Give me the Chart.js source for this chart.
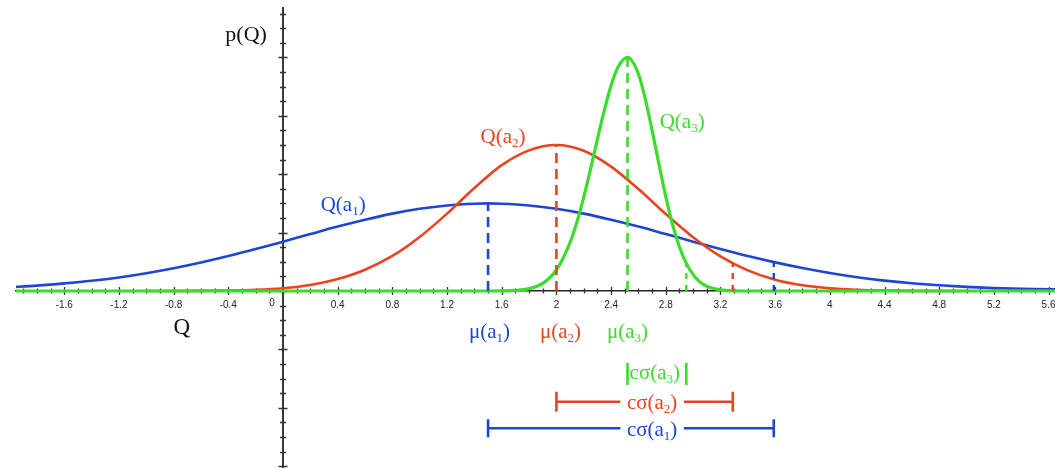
<!DOCTYPE html>
<html>
<head>
<meta charset="utf-8">
<script src="https://cdn.jsdelivr.net/npm/chart.js@4.4.0/dist/chart.umd.min.js"></script>
<style>
html,body{margin:0;padding:0;background:#ffffff;}
#wrap{width:1055px;height:468px;}
</style>
</head>
<body>
<div id="wrap"><canvas id="c" width="1055" height="468"></canvas></div>
<script>
// ---- data ----
const xTickLabels = ['-1.6','-1.2','-0.8','-0.4','0','0.4','0.8','1.2','1.6','2','2.4','2.8','3.2','3.6','4','4.4','4.8','5.2','5.6'];

const blueQ = [-2.0,-1.8,-1.6,-1.4,-1.2,-1.0,-0.8,-0.6,-0.4,-0.2,0,0.2,0.4,0.6,0.8,1.0,1.2,1.4,1.5,1.6,1.8,2.0,2.2,2.4,2.6,2.8,3.0,3.2,3.4,3.6,3.8,4.0,4.2,4.4,4.6,4.8,5.0,5.2,5.4,5.6,5.8];
const blueP = [0.026,0.037,0.052,0.070,0.093,0.122,0.156,0.195,0.239,0.287,0.338,0.390,0.441,0.488,0.530,0.563,0.586,0.598,0.600,0.598,0.586,0.563,0.530,0.488,0.441,0.390,0.338,0.287,0.239,0.196,0.157,0.123,0.094,0.071,0.053,0.039,0.028,0.020,0.015,0.012,0.010];

const redQ = [-1.0,-0.6,-0.4,-0.2,0,0.2,0.4,0.6,0.8,1.0,1.2,1.4,1.6,1.8,2.0,2.2,2.4,2.6,2.8,3.0,3.2,3.4,3.6,3.8,4.0,4.2,4.4,4.6,5.0];
const redP = [0.000,0.001,0.003,0.008,0.019,0.041,0.082,0.146,0.240,0.370,0.530,0.705,0.862,0.963,1.000,0.961,0.852,0.698,0.527,0.368,0.237,0.141,0.077,0.039,0.018,0.008,0.003,0.001,0.000];

const greenQ = [-2.0,1.5,1.6,1.7,1.8,1.9,2.0,2.1,2.15,2.2,2.25,2.3,2.35,2.4,2.45,2.52,2.6,2.65,2.7,2.75,2.8,2.85,2.9,2.95,3.0,3.05,3.1,3.2,3.3,3.4,5.8];
const greenP = [0,0,0.001,0.004,0.016,0.052,0.144,0.333,0.473,0.643,0.836,1.040,1.237,1.407,1.532,1.600,1.486,1.316,1.100,0.868,0.646,0.454,0.301,0.189,0.112,0.062,0.033,0.008,0.001,0,0];

const means   = [1.50, 2.00, 2.52];   // mu(a1), mu(a2), mu(a3)
const peaks   = [0.600, 1.000, 1.600];
const cSigma  = [2.09, 1.29, 0.43];   // c*sigma(a1..a3)
const tailP   = [0.196, 0.19, 0.18];  // curve height at mu + c*sigma

// ---- styles / positions ----
const BLUE = '#1e46d2', RED = '#e8441f', GREEN = '#3cdc2c';
const COLORS = [BLUE, RED, GREEN];
const bracketLevels = [-0.94, -0.758, -0.568];
const capRadius = [9, 10, 11];

const labels = [
  {s:'p(Q)',   q:-0.27, v:1.712,  color:'#111', size:22},
  {s:'Q',      q:-0.74, v:-0.295, color:'#111', size:23},
  {s:'Q(a_1)', q:0.44,  v:0.548,  color:BLUE,  size:21},
  {s:'Q(a_2)', q:1.61,  v:1.014,  color:RED,   size:21},
  {s:'Q(a_3)', q:2.92,  v:1.116,  color:GREEN, size:21},
  {s:'μ(a_1)', q:1.51,  v:-0.322, color:BLUE,  size:21},
  {s:'μ(a_2)', q:2.03,  v:-0.322, color:RED,   size:21},
  {s:'μ(a_3)', q:2.52,  v:-0.322, color:GREEN, size:21},
  {s:'cσ(a_3)', q:2.72, v:-0.603, color:GREEN, size:21, bg:false},
  {s:'cσ(a_2)', q:2.70, v:-0.808, color:RED,   size:21, bg:true},
  {s:'cσ(a_1)', q:2.70, v:-0.993, color:BLUE,  size:21, bg:true}
];

const pts = (qs, ps) => qs.map((q, i) => ({x:q, y:ps[i]}));

const datasets = [];
// curves
[[blueQ, blueP, 3, 2.6], [redQ, redP, 2, 2.6], [greenQ, greenP, 1, 3.2]].forEach((c, i) => {
  datasets.push({data: pts(c[0], c[1]), borderColor: COLORS[i], borderWidth: c[3], pointRadius: 0,
    cubicInterpolationMode: 'monotone', fill: false, order: c[2]});
});
// mean dashed lines, mu + c sigma marks, brackets
means.forEach((m, i) => {
  datasets.push({data: [{x:m, y:0}, {x:m, y:peaks[i]}], borderColor: COLORS[i], borderWidth: 2.6,
    borderDash: [10, 6], pointRadius: 0, order: 0});
  datasets.push({data: [{x:m + cSigma[i], y:0}, {x:m + cSigma[i], y:tailP[i]}], borderColor: COLORS[i], borderWidth: 2.4,
    borderDash: [6, 6], pointRadius: 0, order: 0});
  datasets.push({data: [{x:m, y:bracketLevels[i]}, {x:m + cSigma[i], y:bracketLevels[i]}],
    borderColor: COLORS[i], borderWidth: 2.4, showLine: i !== 2,
    pointStyle: 'line', rotation: 90, pointRadius: capRadius[i], pointHoverRadius: capRadius[i],
    pointBorderColor: COLORS[i], pointBorderWidth: 2.6, order: 0});
});

function richParts(s) {
  const m = s.match(/^(.*)_(\d)(.*)$/);
  if (!m) return [{t:s, sub:false}];
  return [{t:m[1], sub:false}, {t:m[2], sub:true}, {t:m[3], sub:false}];
}

function drawRich(ctx, s, cx, by, size, color, bg) {
  const parts = richParts(s);
  const fontOf = p => (p.sub ? size * 0.62 : size) + 'px "Liberation Serif"';
  let w = 0;
  parts.forEach(p => { ctx.font = fontOf(p); p.w = ctx.measureText(p.t).width; w += p.w; });
  let x = cx - w / 2;
  if (bg) {
    ctx.fillStyle = '#ffffff';
    ctx.fillRect(x - 6.5, by - size * 0.8, w + 13, size * 1.1);
  }
  ctx.fillStyle = color;
  ctx.textAlign = 'left';
  ctx.textBaseline = 'alphabetic';
  parts.forEach(p => {
    ctx.font = fontOf(p);
    ctx.fillText(p.t, x, by + (p.sub ? size * 0.2 : 0));
    x += p.w;
  });
}

const axisTicks = {
  id: 'axisTicks',
  beforeDatasetsDraw(chart) {
    const ctx = chart.ctx, xs = chart.scales.x, ys = chart.scales.y;
    const x0 = xs.getPixelForValue(0), y0 = ys.getPixelForValue(0);
    ctx.save();
    ctx.strokeStyle = '#333';
    ctx.lineWidth = 1.3;
    ctx.beginPath();
    for (let k = Math.ceil(xs.min * 10); k <= Math.floor(xs.max * 10); k++) {
      const px = Math.round(xs.getPixelForValue(k / 10)) + 0.5;
      const h = (k % 4 === 0) ? 4 : 2.5;
      ctx.moveTo(px, y0 - h); ctx.lineTo(px, y0 + h);
    }
    for (let k = Math.ceil(ys.min * 10); k <= Math.floor(ys.max * 10); k++) {
      const py = Math.round(ys.getPixelForValue(k / 10)) + 0.5;
      const h = (k % 4 === 0) ? 4.5 : 3;
      ctx.moveTo(x0 - h, py); ctx.lineTo(x0 + h, py);
    }
    ctx.stroke();
    ctx.fillStyle = '#222';
    ctx.font = '10px "Liberation Sans"';
    ctx.textAlign = 'center';
    ctx.textBaseline = 'middle';
    ctx.fillText('0', x0 - 11, y0 + 12);
    ctx.restore();
  },
  afterDatasetsDraw(chart) {
    const ctx = chart.ctx, xs = chart.scales.x, ys = chart.scales.y;
    ctx.save();
    labels.forEach(l => drawRich(ctx, l.s, xs.getPixelForValue(l.q), ys.getPixelForValue(l.v), l.size, l.color, l.bg));
    ctx.restore();
  }
};

const zeroFit = s => {
  if (s.isHorizontal()) { s.height = 0; } else { s.width = 0; }
  s.paddingLeft = 0; s.paddingRight = 0; s.paddingTop = 0; s.paddingBottom = 0;
};

new Chart(document.getElementById('c'), {
  type: 'line',
  data: {datasets},
  options: {
    responsive: false,
    devicePixelRatio: 1,
    animation: false,
    layout: {autoPadding: false, padding: {left: 16, top: 8, right: 0, bottom: 0}},
    plugins: {legend: {display: false}, tooltip: {enabled: false}},
    events: [],
    scales: {
      x: {
        type: 'linear', position: {y: 0}, min: -1.953, max: 5.647, bounds: 'data',
        grid: {display: false},
        border: {display: true, color: '#222', width: 1.5},
        afterBuildTicks: s => { s.ticks = xTickLabels.map(t => ({value: parseFloat(t)})); },
        afterFit: zeroFit,
        ticks: {
          color: '#222', font: {family: 'Liberation Sans', size: 10}, padding: 0,
          autoSkip: false, maxRotation: 0, minRotation: 0,
          callback: (v, i) => xTickLabels[i] === '0' ? '' : xTickLabels[i]
        }
      },
      y: {
        type: 'linear', position: {x: 0}, min: -1.212, max: 1.938, bounds: 'data',
        grid: {display: false},
        border: {display: true, color: '#3a3a3a', width: 2},
        afterFit: zeroFit,
        ticks: {display: false}
      }
    }
  },
  plugins: [axisTicks]
});
</script>
</body>
</html>
